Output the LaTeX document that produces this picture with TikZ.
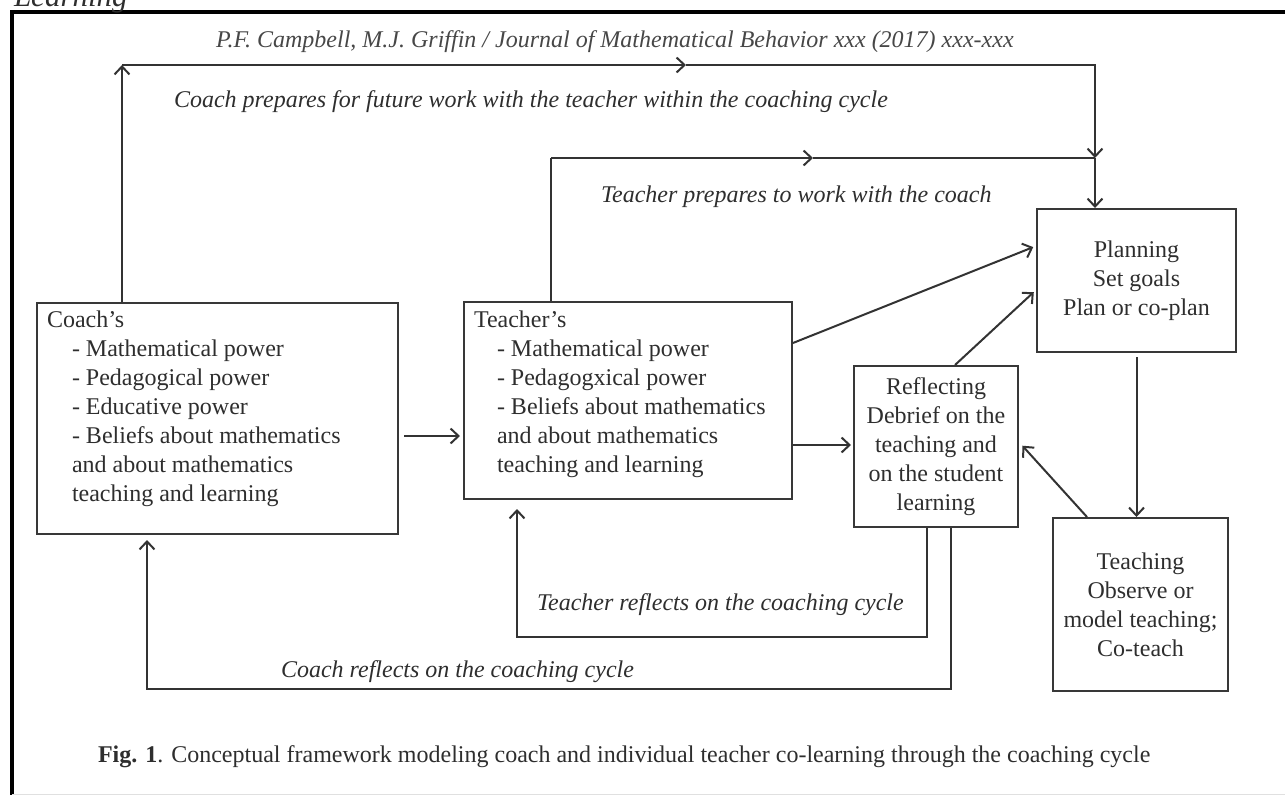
\documentclass[tikz,border=0pt]{standalone}
\usepackage{fontspec}
\setmainfont{Liberation Serif}
\usetikzlibrary{arrows.meta}
\usetikzlibrary{positioning}

\begin{document}
\begin{tikzpicture}[x=1pt, y=-1pt, line width=2pt,
    box/.style={draw=black!78, inner sep=0pt, align=center, text=black!82, font=\fontsize{24}{29}\selectfont},
    txt/.style={inner sep=0pt, text=black!82, font=\fontsize{24}{29}\selectfont},
    lbl/.style={inner sep=0pt, text=black!82, font=\fontsize{24}{29}\selectfont\itshape},
    arr/.style={draw=black!80, -{Straight Barb[length=8pt,width=15pt]}},
    lin/.style={draw=black!80}]

    % Rahmen der Seite
    \useasboundingbox (0,0) rectangle (1285,795);
    \draw[line width=3.5pt] (12,795) -- (12,12) -- (1285,12);
    \draw[line width=1pt, black!12] (12,794) -- (1285,794);
    \node[lbl, anchor=base west, font=\fontsize{31}{36}\selectfont\itshape] (oben) at (13,6) {Learning};
    \node[lbl, anchor=base west, text=black!72] (journal) at (215,47) {P.F. Campbell, M.J. Griffin / Journal of Mathematical Behavior xxx (2017) xxx-xxx};

    % Kaesten
    \node[box, anchor=north west, minimum width=361pt, minimum height=231pt] (coach) at (36,302) {};
    \node[box, anchor=north west, minimum width=328pt, minimum height=197pt] (teacher) at (463,301) {};
    \node[box, minimum width=164pt, minimum height=161pt] (refl) at (936,446.5) {Reflecting\\Debrief on the\\teaching and\\on the student\\learning};
    \node[box, minimum width=199pt, minimum height=143pt] (planning) at (1136.5,280.5) {Planning\\Set goals\\Plan or co-plan};
    \node[box, minimum width=175pt, minimum height=173pt] (teaching) at (1140.5,604.5) {Teaching\\Observe or\\model teaching;\\Co-teach};

    % Texte in den linken Kaesten
    \node[txt, anchor=base west] (coachkopf) at (46,327) {Coach’s};
    \foreach \zeile [count=\i] in {- Mathematical power, - Pedagogical power, - Educative power,
        - Beliefs about mathematics, and about mathematics, teaching and learning} {
        \node[txt, anchor=base west] (coach\i) at (71,327+29*\i) {\zeile};
    }
    \node[txt, anchor=base west] (teacherkopf) at (473,327) {Teacher’s};
    \foreach \zeile [count=\i] in {- Mathematical power, - Pedagogxical power,
        - Beliefs about mathematics, and about mathematics, teaching and learning} {
        \node[txt, anchor=base west] (teacher\i) at (496,327+29*\i) {\zeile};
    }

    % Eckpunkte der oberen Pfeile
    \coordinate (eckeC) at (122,65);
    \coordinate (mitteC) at (686,65);
    \coordinate (eckeO) at (1095,65);
    \coordinate (knoten) at (1095,158);
    \coordinate (eckeT) at (551,158);
    \coordinate (mitteT) at (813,158);

    % Pfeile
    \draw[arr] (coach.north -| eckeC) -- (eckeC);
    \draw[arr] (eckeC) -- (mitteC);
    \draw[arr] (mitteC) -- (eckeO) -- (knoten);
    \draw[lin] (teacher.north -| eckeT) -- (eckeT);
    \draw[arr] (eckeT) -- (mitteT);
    \draw[lin] (mitteT) -- (knoten);
    \draw[arr] (knoten) -- (knoten |- planning.north);
    \draw[arr, shorten >=3pt] (teacher.east |- 0,343) -- (planning.west |- 0,246);
    \draw[arr, shorten >=3pt] (refl.north -| 955,0) -- (planning.west |- 0,290);
    \draw[arr, shorten <=5pt, shorten >=3pt] (coach.east |- 0,436) -- (teacher.west |- 0,436);
    \draw[arr, shorten >=2pt] (teacher.east |- 0,445) -- (refl.west |- 0,445);
    \draw[arr, shorten <=4pt] (planning.south) -- (planning.south |- teaching.north);
    \draw[arr, shorten >=5pt] (teaching.north -| 1087,0) -- (refl.east |- 0,442);
    \draw[arr, shorten >=9pt] (refl.south -| 927,0) -- (927,637) -- (517,637) -- (teacher.south -| 517,0);
    \draw[arr, shorten >=5pt] (refl.south -| 951,0) -- (951,689) -- (147,689) -- (coach.south -| 147,0);

    % Beschriftungen der Pfeile
    \node[lbl, anchor=base west] (lcoachprep) at (173,107) {Coach prepares for future work with the teacher within the coaching cycle};
    \node[lbl, anchor=base west] (lteachprep) at (600,202) {Teacher prepares to work with the coach};
    \node[lbl, anchor=base west] (lteachrefl) at (536,610) {Teacher reflects on the coaching cycle};
    \node[lbl, anchor=base west] (lcoachrefl) at (280,677) {Coach reflects on the coaching cycle};

    % Bildunterschrift
    \node[txt, anchor=base west] (caption) at (97,762) {\textbf{Fig. 1}. Conceptual framework modeling coach and individual teacher co-learning through the coaching cycle};
\end{tikzpicture}
\end{document}
